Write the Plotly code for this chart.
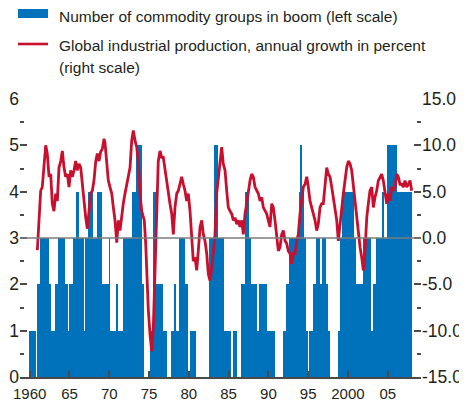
import plotly.graph_objects as go

# ---------------- data ----------------
# Number of commodity groups in boom: step series (start of each run, count)
boom_start = [1959.95, 1960.79, 1960.92, 1961.33, 1962.43, 1962.64, 1963.18, 1963.59, 1964.44, 1964.85,
              1964.98, 1965.40, 1965.78, 1966.20, 1966.86, 1966.99, 1967.37, 1967.99, 1968.42, 1969.13,
              1970.00, 1970.09, 1970.94, 1971.06, 1971.76, 1972.82, 1973.36, 1974.08, 1974.40, 1975.12,
              1975.46, 1975.84, 1976.79, 1977.22, 1977.72, 1978.14, 1978.30, 1978.80, 1979.52, 1979.86,
              1980.15, 1980.90, 1982.57, 1983.20, 1983.71, 1984.42, 1985.26, 1985.59, 1986.06, 1986.56,
              1987.06, 1987.56, 1987.82, 1988.61, 1988.86, 1989.79, 1990.83, 1991.96, 1992.18, 1992.59,
              1993.89, 1994.06, 1994.19, 1994.51, 1994.73, 1995.02, 1995.14, 1995.65, 1995.99, 1996.49,
              1996.70, 1997.24, 1997.53, 1997.74, 1998.75, 1998.94, 1999.22, 2000.76, 2000.95, 2001.58,
              2001.68, 2001.93, 2002.90, 2003.19, 2003.53, 2004.28, 2004.41, 2004.91, 2006.13]
boom_count = [1, 0, 2, 3, 2, 1, 2, 3, 2, 1,
              2, 3, 4, 3, 1, 3, 4, 3, 4, 2,
              3, 1, 2, 1, 3, 4, 5, 2, 0, 1,
              4, 2, 1, 0, 1, 2, 1, 3, 2, 0,
              1, 0, 3, 5, 3, 1, 0, 1, 0, 2,
              4, 3, 2, 1, 2, 1, 0, 1, 2, 3,
              4, 5, 4, 3, 1, 0, 1, 2, 3, 2,
              3, 2, 1, 0, 1, 3, 4, 3, 2, 1,
              2, 3, 1, 2, 3, 4, 3, 5, 4]
boom_end = 2008.01

# Global industrial production, annual growth in percent
ip_year = [1960.96, 1961.17, 1961.38, 1961.58, 1961.80, 1962.01, 1962.21, 1962.43, 1962.64, 1962.84,
           1963.05, 1963.27, 1963.47, 1963.68, 1963.90, 1964.10, 1964.31, 1964.52, 1964.73, 1964.94,
           1965.15, 1965.35, 1965.57, 1965.78, 1965.98, 1966.20, 1966.41, 1966.61, 1966.83, 1967.04,
           1967.24, 1967.45, 1967.67, 1967.87, 1968.08, 1968.30, 1968.50, 1968.71, 1968.92, 1969.13,
           1969.34,
           1969.46, 1969.68, 1969.88, 1970.09, 1970.31, 1970.51, 1970.72, 1970.94, 1971.14, 1971.35,
           1971.56, 1971.76, 1971.98, 1972.19, 1972.39, 1972.61, 1972.82, 1973.02, 1973.24, 1973.45,
           1973.65, 1973.86, 1974.08, 1974.40, 1974.58, 1974.74, 1974.91, 1975.12, 1975.33, 1975.54,
           1975.75, 1975.96, 1976.16, 1976.38, 1976.59, 1976.79, 1977.01, 1977.22, 1977.42, 1977.63,
           1977.85, 1978.05, 1978.26, 1978.48, 1978.68, 1978.89, 1979.10, 1979.31,
           1979.52, 1979.73, 1979.93, 1980.15, 1980.36, 1980.56, 1980.78, 1980.99, 1981.19, 1981.41,
           1981.62, 1981.82, 1982.03, 1982.25, 1982.45, 1982.66, 1982.88, 1983.08, 1983.29, 1983.50,
           1983.71, 1983.92, 1984.13, 1984.33, 1984.55, 1984.76, 1984.96, 1985.18, 1985.39, 1985.59,
           1985.80, 1986.02, 1986.22, 1986.43, 1986.65, 1986.85, 1987.06, 1987.27, 1987.48, 1987.69,
           1987.90, 1988.10, 1988.32, 1988.53, 1988.73, 1988.95, 1989.16, 1989.36,
           1989.57, 1989.79, 1989.99, 1990.20, 1990.42, 1990.62, 1990.83, 1991.05, 1991.25, 1991.46,
           1991.67, 1991.88, 1992.09, 1992.30, 1992.50, 1992.72, 1992.93, 1993.13, 1993.35, 1993.56,
           1993.76, 1993.97, 1994.19, 1994.39, 1994.60, 1994.82, 1995.02, 1995.23, 1995.44, 1995.65,
           1995.86, 1996.07, 1996.27, 1996.49, 1996.70, 1996.90, 1997.12, 1997.33, 1997.53, 1997.74,
           1997.96, 1998.16, 1998.37, 1998.59, 1998.79, 1999.00, 1999.22, 1999.42, 1999.63, 1999.84,
           2000.05,
           2000.26, 2000.47, 2000.67, 2000.89, 2001.10, 2001.30, 2001.52, 2001.73, 2001.93, 2002.06,
           2002.23, 2002.36, 2002.56, 2002.77, 2002.99, 2003.19, 2003.40, 2003.61, 2003.82, 2004.03,
           2004.24, 2004.44, 2004.66, 2004.87, 2005.07, 2005.29, 2005.50, 2005.70, 2005.92, 2006.13,
           2006.33, 2006.54, 2006.76, 2006.96, 2007.17, 2007.39, 2007.59, 2007.80, 2008.01]
ip_growth = [-1.3, 1.5, 5.1, 5.5, 8.3, 10.0, 9.1, 6.6, 6.9, 3.7,
             2.9, 4.8, 4.0, 7.6, 8.3, 9.4, 7.6, 6.6, 6.9, 5.5,
             7.3, 6.6, 7.3, 8.3, 7.3, 8.0, 7.6, 5.8, 4.4, 2.2,
             1.0, 3.3, 4.8, 5.1, 6.2, 8.3, 9.1, 8.3, 9.3, 9.6,
             10.7,
             10.3, 8.3, 6.2, 5.5, 4.8, 3.3, 1.9, -0.5, 1.9, 0.8,
             2.6, 3.7, 4.8, 5.8, 6.6, 7.6, 10.5, 11.6, 10.5, 9.8,
             8.3, 4.8, 2.9, 1.9, -0.6, -4.2, -7.8, -10.4, -12.2, -9.6,
             -4.2, 2.9, 8.3, 9.4, 8.7, 8.7, 7.3, 6.2, 5.1, 3.7,
             2.6, 0.4, 3.3, 4.8, 5.1, 5.8, 6.6, 5.8,
             5.1, 4.0, 4.8, 2.9, 0.1, -2.5, -2.1, -3.5, -1.4, 1.2,
             1.9, 0.4, -0.3, -1.7, -3.9, -4.6, -3.2, -1.4, 0.4, 4.8,
             6.6, 8.7, 9.8, 8.0, 7.3, 5.1, 3.3, 2.9, 2.6, 1.9,
             2.2, 1.5, 1.9, 1.2, 1.9, 0.4, 2.6, 3.7, 5.1, 6.2,
             6.9, 6.6, 5.5, 5.1, 4.8, 4.0, 4.4, 3.3,
             3.0, 2.6, 1.9, 1.2, 3.7, 3.3, 1.9, -0.3, -1.4, -1.0,
             0.4, 0.8, -0.3, -0.6, -1.4, -1.7, -2.8, -1.7, -1.7, -0.3,
             0.4, 2.6, 4.4, 5.5, 5.8, 6.6, 5.5, 4.0, 3.3, 2.6,
             1.9, 0.8, 1.5, 3.3, 3.7, 3.7, 5.8, 7.6, 6.9, 6.6,
             5.5, 4.4, 2.9, 1.9, -0.3, 1.5, 3.7, 4.8, 6.2, 7.6,
             8.3,
             8.0, 7.3, 5.8, 3.7, 1.9, 0.4, -1.0, -2.1, -3.5, -2.8,
             0.4, 2.2, 3.7, 5.1, 5.5, 3.3, 4.4, 5.1, 6.2, 6.6,
             6.9, 6.2, 4.8, 3.7, 4.8, 4.0, 5.5, 5.1, 5.5, 6.9,
             6.6, 5.8, 5.8, 5.5, 6.2, 5.5, 5.8, 6.2, 5.1]

x_tick_vals = [1960, 1965, 1970, 1975, 1980, 1985, 1990, 1995, 2000, 2005]
x_tick_text = ["1960", "65", "70", "75", "80", "85", "90", "95", "2000", "05"]
left_tick_vals = [0, 1, 2, 3, 4, 5, 6]
right_tick_vals = [-15, -10, -5, 0, 5, 10, 15]
right_tick_text = ["-15.0", "-10.0", "-5.0", "0.0", "5.0", "10.0", "15.0"]

legend_bar_text = "Number of commodity groups in boom (left scale)"
legend_line_text = ["Global industrial production, annual growth in percent", "(right scale)"]

# ---------------- styling ----------------
BLUE = "#0072BC"
RED = "#C8102E"
AXIS = "#4a4a4a"
TEXT = "#231F20"
FONT = "Liberation Sans, Arial, sans-serif"

# the page body has an 8px default margin: lay the figure out 8px smaller
OFF = 8
W, H = 467 - OFF, 402 - OFF
ML, MR, MT, MB = 20 - OFF, 46, 99 - OFF, 25
PW, PH = W - ML - MR, H - MT - MB


def px_x(px):
    """reference-picture x pixel -> paper coordinate"""
    return (px - OFF - ML) / PW


def px_y(py):
    """reference-picture y pixel -> paper coordinate"""
    return (H - MB - (py - OFF)) / PH


widths = [b - a for a, b in zip(boom_start, boom_start[1:] + [boom_end])]

fig = go.Figure()
fig.add_trace(go.Bar(
    x=boom_start, y=boom_count, width=widths, offset=0,
    marker=dict(color=BLUE, line=dict(width=0)),
    name=legend_bar_text, yaxis="y", hoverinfo="skip",
))
fig.add_trace(go.Scatter(
    x=ip_year, y=ip_growth, mode="lines",
    line=dict(color=RED, width=2.8),
    name=" ".join(legend_line_text), yaxis="y2", hoverinfo="skip",
))

tick_common = dict(ticks="inside", tickcolor=AXIS, tickwidth=1.5,
                   showgrid=False, zeroline=False, automargin=False)

fig.update_layout(
    template="none",
    width=W, height=H,
    margin=dict(l=ML, r=MR, t=MT, b=MB, pad=0),
    paper_bgcolor="white", plot_bgcolor="white",
    showlegend=False, bargap=0,
    font=dict(family=FONT, color=TEXT),
    xaxis=dict(range=[1958.78, 2009.18], tickvals=x_tick_vals, ticktext=x_tick_text,
               ticklen=6, showline=True, linecolor=AXIS, linewidth=1.5, ticklabelstandoff=2,
               tickfont=dict(size=15, family=FONT, color=TEXT), **tick_common),
    yaxis=dict(range=[0, 6], tickvals=left_tick_vals, ticklen=7, showline=False,
               minor=dict(dtick=0.5, ticks="inside", ticklen=4, tickcolor=AXIS, tickwidth=1.5),
               tickfont=dict(size=17.5, family=FONT, color=TEXT), **tick_common),
    yaxis2=dict(range=[-15, 15], tickvals=right_tick_vals, ticktext=right_tick_text,
                overlaying="y", side="right", ticklen=7, showline=False,
                minor=dict(dtick=2.5, ticks="inside", ticklen=4, tickcolor=AXIS, tickwidth=1.5),
                tickfont=dict(size=17.5, family=FONT, color=TEXT), **tick_common),
)

# horizontal reference line at 0 on the right scale
fig.add_shape(type="line", xref="paper", x0=0, x1=1, yref="y2", y0=0, y1=0,
              line=dict(color="#7d7d7d", width=1.5), layer="above")

# custom legend
fig.add_shape(type="rect", xref="paper", yref="paper",
              x0=px_x(18), x1=px_x(48), y0=px_y(18), y1=px_y(9),
              fillcolor=BLUE, line=dict(width=0))
fig.add_shape(type="line", xref="paper", yref="paper",
              x0=px_x(18), x1=px_x(48), y0=px_y(44), y1=px_y(44),
              line=dict(color=RED, width=2.6))
for txt, py in [(legend_bar_text, 16.5), (legend_line_text[0], 45), (legend_line_text[1], 67)]:
    fig.add_annotation(text=txt, xref="paper", yref="paper", x=px_x(58), y=px_y(py),
                       xanchor="left", yanchor="middle", showarrow=False, borderpad=0,
                       font=dict(size=15.5, family=FONT, color=TEXT))

fig.write_html("out.html")
